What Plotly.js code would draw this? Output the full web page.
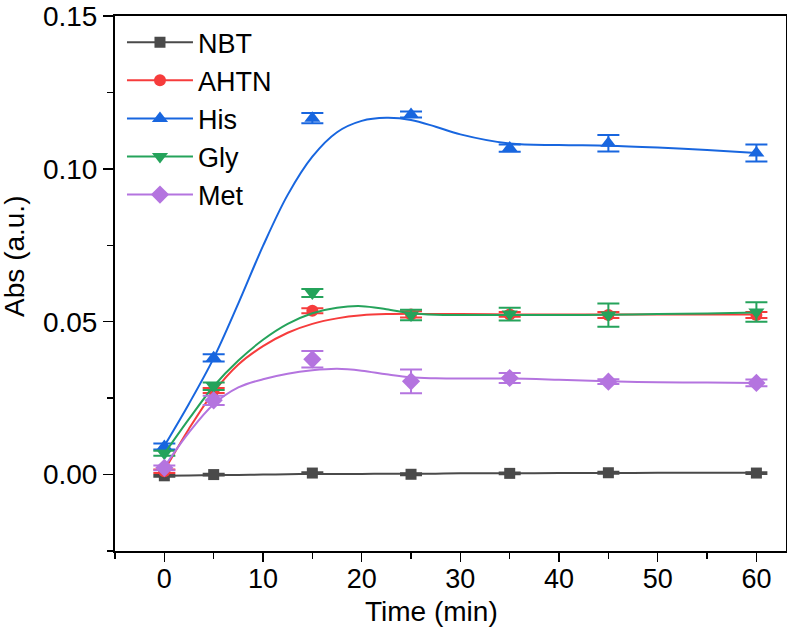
<!DOCTYPE html>
<html>
<head>
<meta charset="utf-8">
<script src="https://cdn.plot.ly/plotly-3.0.1.min.js"></script>
<style>
  html, body { margin: 0; padding: 0; background: #ffffff; }
  #chart { width: 787px; height: 629px; }
</style>
</head>
<body>
<div id="chart"></div>
<script>
// ---- measured points (time in min) ----
const seriesNames = ["NBT", "AHTN", "His", "Gly", "Met"];
const timePts = [0, 5, 15, 25, 35, 45, 60];

const nbtVals  = [-0.0004, 0.0000, 0.0005, 0.0001, 0.0004, 0.0006, 0.0005];
const nbtErr   = [0.0003, 0.0003, 0.0003, 0.0003, 0.0003, 0.0003, 0.0003];
const ahtnVals = [0.0011, 0.0275, 0.0536, 0.0524, 0.0524, 0.0522, 0.0522];
const ahtnErr  = [0.0006, 0.0008, 0.0008, 0.0010, 0.0008, 0.0010, 0.0010];
const hisVals  = [0.0092, 0.0382, 0.1166, 0.1178, 0.1068, 0.1084, 0.1052];
const hisErr   = [0.0010, 0.0012, 0.0017, 0.0010, 0.0012, 0.0027, 0.0028];
const glyVals  = [0.0070, 0.0289, 0.0594, 0.0522, 0.0525, 0.0522, 0.0532];
const glyErr   = [0.0008, 0.0012, 0.0013, 0.0017, 0.0021, 0.0038, 0.0032];
const metVals  = [0.0022, 0.0243, 0.0377, 0.0305, 0.0316, 0.0304, 0.0300];
const metErr   = [0.0008, 0.0015, 0.0027, 0.0039, 0.0016, 0.0008, 0.0011];

// ---- fitted curves ----
const fitTime = [0, 2.5, 5, 7.5, 10, 12.5, 15, 17.5, 20, 22.5, 25, 27.5, 30, 35, 40, 45, 50, 55, 60];
const nbtFit  = [-0.0004, -0.0003, -0.0002, -0.0001, 0.0000, 0.0001, 0.0002, 0.0002, 0.0002, 0.0003, 0.0003, 0.0003, 0.0004, 0.0004, 0.0005, 0.0005, 0.0006, 0.0006, 0.0006];
const ahtnFit = [0.0013, 0.0150, 0.0270, 0.0360, 0.0420, 0.0464, 0.0493, 0.0511, 0.0521, 0.0525, 0.0526, 0.0525, 0.0525, 0.0524, 0.0524, 0.0524, 0.0524, 0.0524, 0.0524];
const hisFit  = [0.0094, 0.0232, 0.0381, 0.0560, 0.0748, 0.0915, 0.1040, 0.1120, 0.1157, 0.1167, 0.1160, 0.1138, 0.1113, 0.1083, 0.1078, 0.1076, 0.1070, 0.1062, 0.1052];
const glyFit  = [0.0068, 0.0182, 0.0289, 0.0373, 0.0441, 0.0493, 0.0528, 0.0546, 0.0551, 0.0541, 0.0528, 0.0523, 0.0522, 0.0522, 0.0522, 0.0523, 0.0525, 0.0527, 0.0530];
const metFit  = [0.0025, 0.0138, 0.0230, 0.0285, 0.0312, 0.0330, 0.0341, 0.0346, 0.0340, 0.0328, 0.0318, 0.0315, 0.0314, 0.0314, 0.0310, 0.0305, 0.0302, 0.0301, 0.0300];

const xTickVals = [0, 10, 20, 30, 40, 50, 60];
const yTickVals = [0.00, 0.05, 0.10, 0.15];
const xTitle = "Time (min)";
const yTitle = "Abs (a.u.)";

const colors  = ["#4a4a4a", "#f63c3c", "#1866df", "#25a35b", "#b474df"];
const symbols = ["square", "circle", "triangle-up", "triangle-down", "diamond"];
const msizes  = [11, 12, 14, 14, 14];

const vals = [nbtVals, ahtnVals, hisVals, glyVals, metVals];
const errs = [nbtErr, ahtnErr, hisErr, glyErr, metErr];
const fits = [nbtFit, ahtnFit, hisFit, glyFit, metFit];

const FONT = "Liberation Sans, Arial, sans-serif";
const FS = 28;
const traces = [];
for (let i = 0; i < seriesNames.length; i++) {
  traces.push({
    type: "scatter", mode: "lines", x: fitTime, y: fits[i],
    line: { color: colors[i], width: 2, shape: "spline", smoothing: 1 },
    showlegend: false, hoverinfo: "skip"
  });
  traces.push({
    type: "scatter", mode: "markers", x: timePts, y: vals[i],
    marker: { color: colors[i], symbol: symbols[i], size: msizes[i] },
    error_y: { type: "data", array: errs[i], visible: true, color: colors[i], thickness: 2, width: 11 },
    showlegend: false, name: seriesNames[i]
  });
}
// legend entries (line + marker sample)
for (let i = 0; i < seriesNames.length; i++) {
  traces.push({
    type: "scatter", mode: "lines+markers", x: [null], y: [null],
    name: seriesNames[i],
    line: { color: colors[i], width: 2 },
    marker: { color: colors[i], symbol: symbols[i], size: msizes[i] }
  });
}

const layout = {
  width: 787, height: 629,
  margin: { l: 115, r: 1, t: 16, b: 78 },
  paper_bgcolor: "#ffffff", plot_bgcolor: "#ffffff",
  font: { family: FONT, size: FS, color: "#000000" },
  showlegend: true,
  legend: {
    x: 0.0104, y: 0.996, xanchor: "left", yanchor: "top",
    bgcolor: "rgba(0,0,0,0)", borderwidth: 0,
    font: { family: FONT, size: 27, color: "#000000" },
    itemwidth: 66, tracegroupgap: 0
  },
  xaxis: {
    range: [-5, 63], tickvals: xTickVals, ticktext: xTickVals.map(String),
    ticks: "outside", ticklen: 9, tickwidth: 1.5, tickcolor: "#000",
    ticklabelstandoff: -6,
    minor: { dtick: 5, tick0: 0, ticks: "outside", ticklen: 6, tickwidth: 1.5, tickcolor: "#000", showgrid: false },
    showline: true, linecolor: "#000", linewidth: 2, mirror: true,
    showgrid: false, zeroline: false,
    tickfont: { family: FONT, size: 27 }
  },
  yaxis: {
    range: [-0.025, 0.15002], tickvals: yTickVals, ticktext: yTickVals.map(v => v.toFixed(2)),
    ticks: "outside", ticklen: 10, tickwidth: 1.5, tickcolor: "#000",
    ticklabeloverflow: "allow",
    minor: { dtick: 0.025, tick0: 0, ticks: "outside", ticklen: 6, tickwidth: 1.5, tickcolor: "#000", showgrid: false },
    showline: true, linecolor: "#000", linewidth: 2, mirror: true,
    showgrid: false, zeroline: false,
    tickfont: { family: FONT, size: FS }
  },
  annotations: [
    { text: xTitle, xref: "paper", yref: "paper", x: 0.471, y: -0.114,
      xanchor: "center", yanchor: "middle", showarrow: false,
      font: { family: FONT, size: FS, color: "#000" } },
    { text: yTitle, xref: "paper", yref: "paper", x: -0.1495, y: 0.551,
      xanchor: "center", yanchor: "middle", textangle: -90, showarrow: false,
      font: { family: FONT, size: FS, color: "#000" } }
  ]
};

Plotly.newPlot("chart", traces, layout, { displayModeBar: false, staticPlot: true });
</script>
</body>
</html>
